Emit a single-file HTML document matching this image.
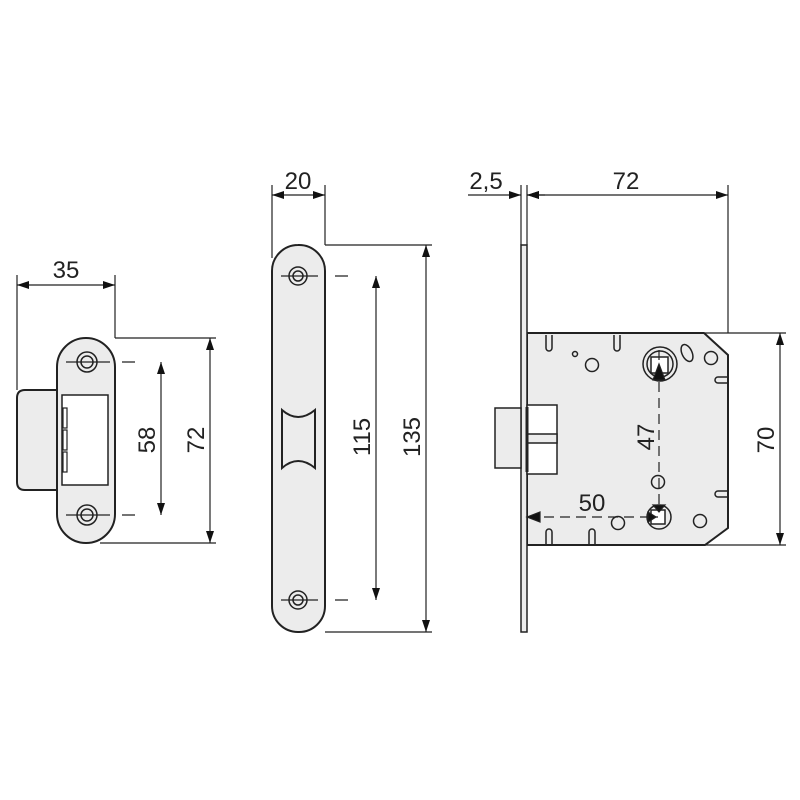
<!DOCTYPE html>
<html><head><style>html,body{margin:0;padding:0;background:#fff}svg{display:block}text{font-family:"Liberation Sans",sans-serif;font-size:24px;fill:#222}</style></head>
<body>
<svg width="800" height="800" viewBox="0 0 800 800" xmlns="http://www.w3.org/2000/svg">
<defs>
<marker id="a" viewBox="0 0 12 8" refX="12" refY="4" markerWidth="12" markerHeight="8" orient="auto-start-reverse" markerUnits="userSpaceOnUse"><path d="M0,0L12,4L0,8z" fill="#111"/></marker>
</defs>
<g stroke="#222" fill="none" stroke-width="1.2">
<path d="M57,390 H25 Q17,390 17,398 V482 Q17,490 25,490 H57" fill="#ececec" stroke-width="2"/>
<path d="M86,338 A29,29 0 0 1 115,367 V514 A29,29 0 0 1 86,543 A29,29 0 0 1 57,514 V367 A29,29 0 0 1 86,338Z" fill="#ececec" stroke-width="2"/>
<rect x="62" y="395" width="46" height="90" fill="#fff" stroke-width="1.5"/>
<rect x="63" y="408" width="4" height="20"/><rect x="63" y="430" width="4" height="20"/><rect x="63" y="452" width="4" height="20"/>
<circle cx="87" cy="362" r="10" stroke-width="1.5"/><circle cx="87" cy="362" r="6" stroke-width="1.5"/>
<circle cx="87" cy="515" r="10" stroke-width="1.5"/><circle cx="87" cy="515" r="6" stroke-width="1.5"/>
<path d="M66,362H110M66,515H110M122,362H135M122,515H135"/>
<path d="M17,275V390M115,275V338M115,338H216M100,543H216"/>
<line x1="17" y1="285" x2="115" y2="285" marker-start="url(#a)" marker-end="url(#a)"/>
<line x1="161" y1="362" x2="161" y2="515" marker-start="url(#a)" marker-end="url(#a)"/>
<line x1="210" y1="338" x2="210" y2="543" marker-start="url(#a)" marker-end="url(#a)"/>
<path d="M298,245 A26,26 0 0 1 325,271 V606 A26,26 0 0 1 298,632 A26,26 0 0 1 272,606 V271 A26,26 0 0 1 298,245Z" fill="#ececec" stroke-width="2"/>
<path d="M282,410 Q298,424 315,410 V468 Q298,454 282,468Z" fill="#ececec" stroke-width="2"/>
<circle cx="298" cy="276" r="9" stroke-width="1.5"/><circle cx="298" cy="276" r="5" stroke-width="1.5"/>
<circle cx="298" cy="600" r="9" stroke-width="1.5"/><circle cx="298" cy="600" r="5" stroke-width="1.5"/>
<path d="M281,276H318M281,600H318M335,276H348M335,600H348"/>
<path d="M272,185V258M325,185V245M325,245H432M325,632H432"/>
<line x1="272" y1="195" x2="325" y2="195" marker-start="url(#a)" marker-end="url(#a)"/>
<line x1="376" y1="276" x2="376" y2="600" marker-start="url(#a)" marker-end="url(#a)"/>
<line x1="426" y1="245" x2="426" y2="632" marker-start="url(#a)" marker-end="url(#a)"/>
<path d="M527,333 H704 L728,355 V528 L705,545 H527Z" fill="#ececec" stroke-width="2"/>
<rect x="521" y="245" width="6" height="387" fill="#ececec" stroke-width="1.5"/>
<rect x="495" y="408" width="26" height="60" fill="#ececec" stroke-width="1.5"/>
<rect x="527" y="405" width="30" height="69" fill="#fff" stroke-width="1.5"/>
<rect x="527" y="434" width="30" height="9" fill="#ececec" stroke-width="1.5"/>
<path d="M527,407V472" stroke-width="3"/>
<g stroke-width="1.5">
<path d="M546,335V348A3,3 0 0 0 552,348V335M614,335V348A3,3 0 0 0 620,348V335M546,545V532A3,3 0 0 1 552,532V545M589,545V532A3,3 0 0 1 595,532V545"/>
<path d="M728,377H718A3,3 0 0 0 718,383H728M728,491H718A3,3 0 0 0 718,497H728"/>
<circle cx="575" cy="354" r="2.5"/><circle cx="592" cy="365" r="6.5"/>
<circle cx="711" cy="358" r="6.5"/><circle cx="700" cy="521" r="6.5"/><circle cx="618" cy="523" r="6.5"/>
<circle cx="658" cy="482" r="6.5"/>
<ellipse cx="687" cy="353" rx="5" ry="9" transform="rotate(-25 687 353)"/>
<circle cx="660" cy="364" r="17"/><circle cx="660" cy="364" r="13"/>
<rect x="651" y="357" width="17" height="16" fill="#fff"/>
<circle cx="659" cy="517" r="12"/><rect x="651" y="510" width="14" height="14" fill="#fff"/>
</g>
<path d="M659,350V510" stroke-dasharray="10,6"/>
<path d="M528,517H658" stroke-dasharray="10,6"/>
<path d="M653,380L659,364L665,380Z" fill="#111"/>
<path d="M653,505L659,512L665,505Z" fill="#111"/>
<path d="M648,512L656,517L648,522Z" fill="#111"/>
<path d="M527,517L540,512V522Z" fill="#111"/>
<path d="M521,185V245M527,185V245M728,185V333M705,333H786M705,545H786"/>
<line x1="468" y1="195" x2="521" y2="195" marker-end="url(#a)"/>
<line x1="545" y1="195" x2="527" y2="195" marker-end="url(#a)"/>
<line x1="527" y1="195" x2="728" y2="195" marker-start="url(#a)" marker-end="url(#a)"/>
<line x1="780" y1="333" x2="780" y2="545" marker-start="url(#a)" marker-end="url(#a)"/>
</g>
<text x="66" y="278" text-anchor="middle">35</text>
<text transform="translate(155,440) rotate(-90)" text-anchor="middle">58</text>
<text transform="translate(204,440) rotate(-90)" text-anchor="middle">72</text>
<text x="298" y="189" text-anchor="middle">20</text>
<text transform="translate(370,437) rotate(-90)" text-anchor="middle">115</text>
<text transform="translate(420,437) rotate(-90)" text-anchor="middle">135</text>
<text x="486" y="189" text-anchor="middle">2,5</text>
<text x="626" y="189" text-anchor="middle">72</text>
<text transform="translate(654,437) rotate(-90)" text-anchor="middle">47</text>
<text x="592" y="511" text-anchor="middle">50</text>
<text transform="translate(774,440) rotate(-90)" text-anchor="middle">70</text>
</svg>
</body></html>
